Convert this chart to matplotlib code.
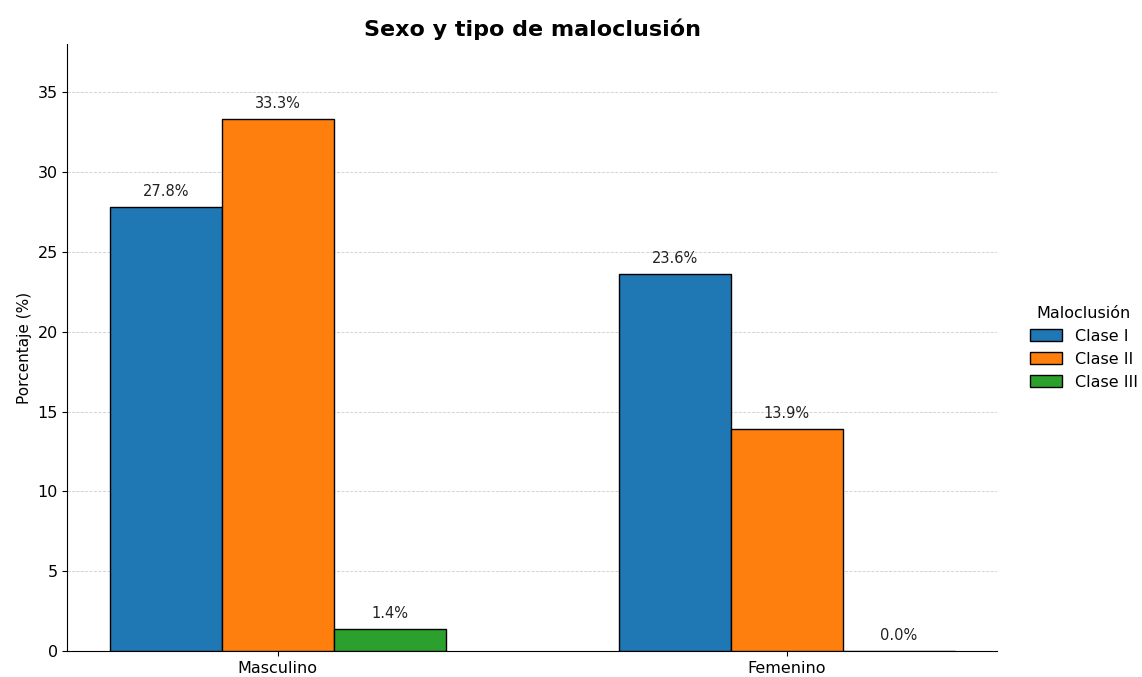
import matplotlib.pyplot as plt
import numpy as np

sexos = ['Masculino', 'Femenino']
clases = ['Clase I', 'Clase II', 'Clase III']
porcentajes = {
    'Clase I': [27.8, 23.6],
    'Clase II': [33.3, 13.9],
    'Clase III': [1.4, 0.0],
}
colores = ['#1f77b4', '#ff7f0e', '#2ca02c']

x = np.arange(len(sexos))
ancho = 0.22

fig, ax = plt.subplots(figsize=(11.42, 6.77), dpi=100)
for i, clase in enumerate(clases):
    vals = porcentajes[clase]
    barras = ax.bar(x + (i - 1) * ancho, vals, ancho, label=clase,
                    color=colores[i], edgecolor='black', linewidth=1, zorder=3)
    for b, v in zip(barras, vals):
        ax.annotate(f'{v:.1f}%', (b.get_x() + b.get_width() / 2, v),
                    xytext=(0, 6), textcoords='offset points',
                    ha='center', va='bottom', fontsize=10.5, color='#222222')

ax.set_xticks(x)
ax.set_xticklabels(sexos, fontsize=11.5)
ax.tick_params(axis='y', labelsize=11.5)
ax.set_ylabel('Porcentaje (%)', fontsize=11)
ax.set_ylim(0, 38)
ax.set_title('Sexo y tipo de maloclusión', fontsize=16, fontweight='bold', pad=6)
ax.grid(axis='y', linestyle='--', linewidth=0.6, color='#cccccc', zorder=0)
ax.spines['top'].set_visible(False)
ax.spines['right'].set_visible(False)
ax.legend(title='Maloclusión', loc='center left', bbox_to_anchor=(1.02, 0.5),
          frameon=False, fontsize=11.5, title_fontsize=11.5)

plt.subplots_adjust(left=0.059, right=0.873, top=0.935, bottom=0.038)
plt.savefig('out.png', dpi=100)
